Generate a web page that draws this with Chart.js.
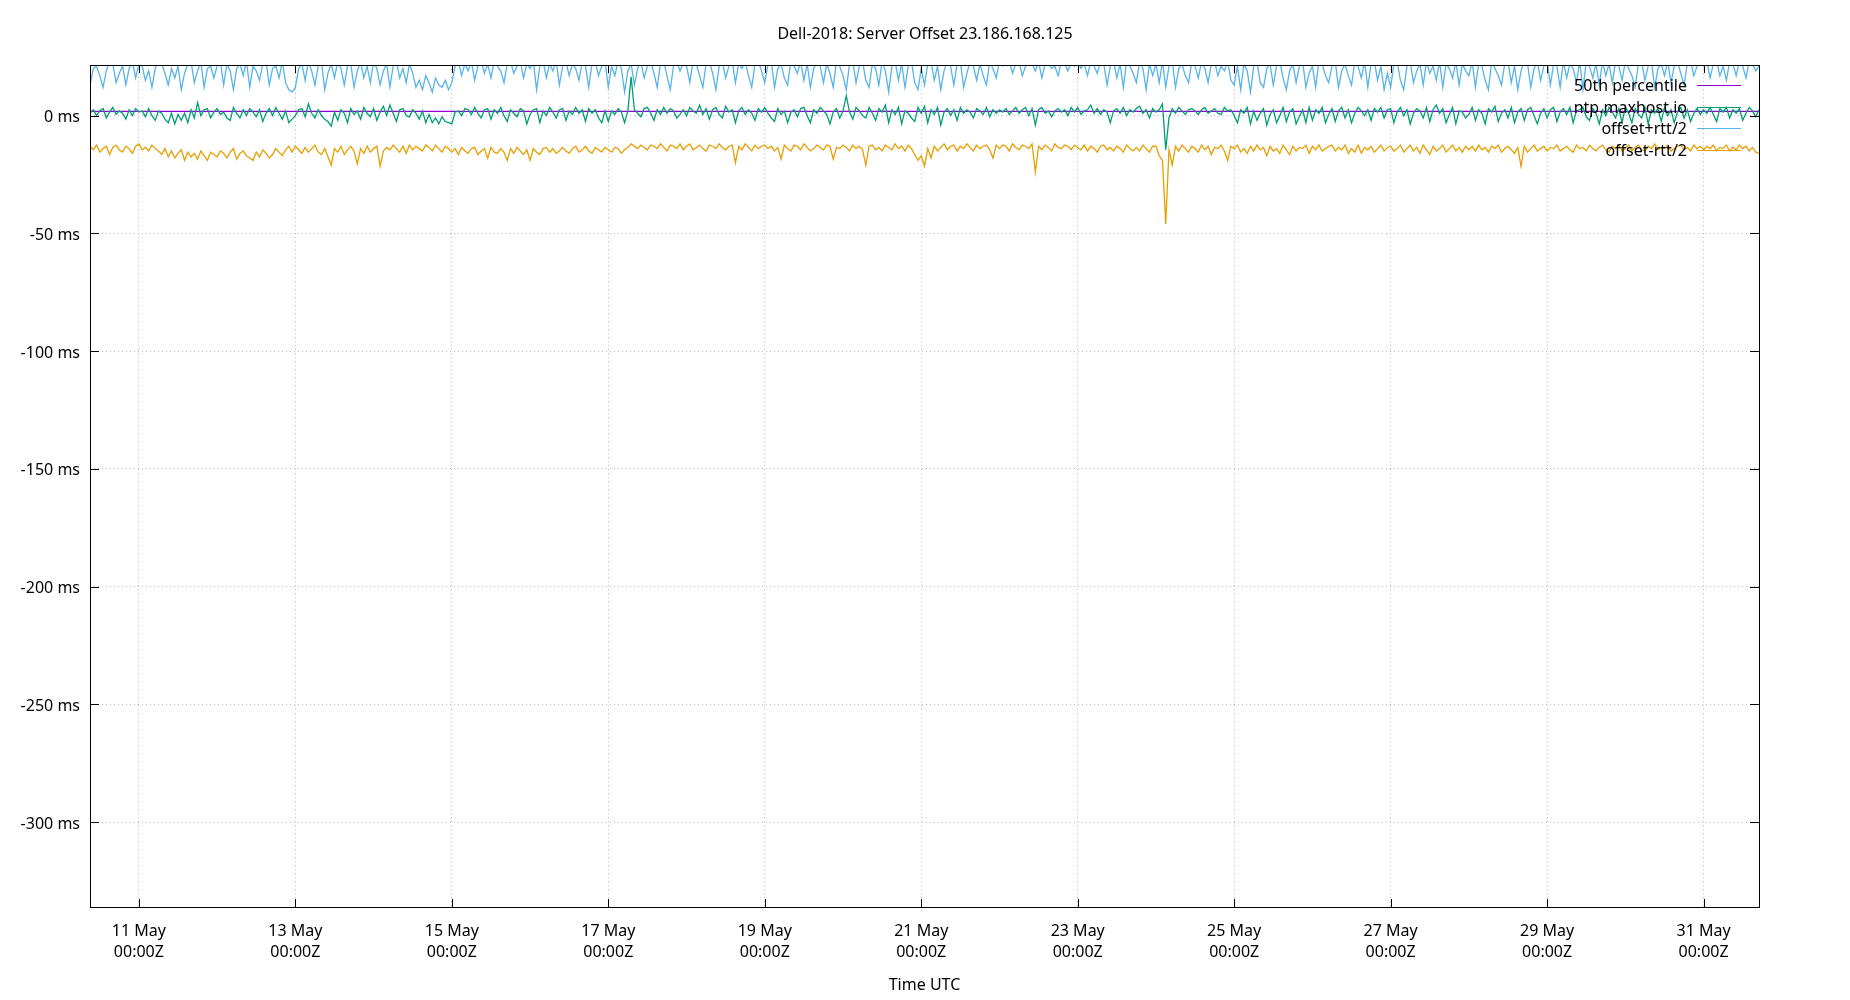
<!DOCTYPE html>
<html>
<head>
<meta charset="utf-8">
<title>Dell-2018: Server Offset 23.186.168.125</title>
<script src="https://cdn.jsdelivr.net/npm/chart.js@4.4.1/dist/chart.umd.min.js"></script>
<style>
  html, body { margin: 0; padding: 0; background: #fff; }
  canvas { display: block; }
</style>
</head>
<body>
<canvas id="offsetChart" width="1850" height="1000"></canvas>
<script>
// hourly samples, first one 10 May 2018 09:00Z, last one 31 May 17:00Z
const startTime = Date.UTC(2018, 4, 10, 9);
const endTime = Date.UTC(2018, 4, 31, 17);
const stepMs = 3600 * 1000;

// offset+rtt/2 (ms), one row per day
const offsetPlus = [
  13, 20, 21, 17, 12, 19, 23, 22, 14, 18, 21, 13, 20, 23, 16,
  22, 21, 15, 19, 12, 20, 23, 22, 18, 13, 20, 16, 21, 11, 18, 22, 23, 14, 19, 23, 12, 20, 21, 16,
  21, 23, 13, 22, 19, 11, 20, 22, 17, 23, 12, 21, 19, 15, 22, 23, 13, 20, 21, 16, 23, 14, 11, 10,
  12, 20, 22, 15, 23, 19, 13, 21, 23, 11, 18, 22, 16, 23, 20, 13, 21, 22, 12, 19, 23, 16, 21, 14,
  23, 20, 13, 19, 22, 12, 21, 23, 16, 20, 14, 22, 18, 12, 15, 11, 17, 14, 10, 16, 13, 12, 15, 11,
  14, 21, 23, 17, 22, 19, 23, 15, 21, 23, 18, 22, 16, 23, 21, 19, 14, 22, 23, 18, 21, 23, 16, 22,
  20, 23, 11, 21, 23, 16, 22, 19, 23, 13, 21, 23, 17, 22, 20, 15, 23, 21, 12, 22, 23, 17, 21, 23,
  12, 21, 17, 23, 20, 10, 19, 22, 13, 20, 23, 16, 21, 23, 18, 12, 22, 23, 17, 11, 21, 23, 19, 22,
  21, 14, 23, 22, 17, 12, 22, 23, 18, 11, 21, 23, 16, 21, 23, 14, 22, 20, 23, 17, 12, 22, 23, 19,
  14, 22, 23, 12, 20, 22, 16, 13, 23, 21, 18, 23, 15, 22, 12, 20, 23, 21, 14, 22, 18, 12, 23, 21,
  17, 11, 22, 23, 14, 21, 23, 15, 12, 22, 20, 13, 23, 19, 10, 21, 23, 15, 22, 12, 21, 23, 14, 11,
  20, 13, 22, 23, 15, 21, 11, 19, 23, 21, 13, 22, 23, 12, 18, 23, 21, 15, 22, 17, 13, 23, 20, 16,
  23, 21, 22, 23, 18, 22, 23, 17, 21, 23, 22, 19, 23, 16, 22, 23, 20, 21, 17, 23, 22, 19, 23, 21,
  23, 20, 22, 17, 23, 21, 18, 23, 22, 13, 21, 23, 16, 22, 12, 23, 21, 18, 14, 23, 20, 11, 22, 17,
  22, 14, 23, 12, 21, 23, 12, 20, 22, 17, 14, 23, 21, 16, 23, 20, 14, 22, 23, 17, 21, 19, 23, 15,
  13, 21, 11, 22, 19, 10, 21, 23, 14, 12, 20, 22, 13, 21, 23, 16, 11, 19, 22, 14, 21, 23, 12, 18,
  21, 12, 23, 22, 17, 14, 21, 23, 12, 19, 22, 17, 13, 23, 21, 16, 23, 12, 22, 23, 15, 21, 11, 18,
  12, 22, 23, 15, 11, 21, 23, 14, 19, 22, 13, 23, 18, 21, 15, 23, 12, 22, 20, 16, 23, 13, 22, 19,
  17, 23, 12, 22, 21, 15, 11, 23, 20, 17, 13, 22, 23, 14, 21, 11, 19, 23, 22, 12, 20, 23, 15, 21,
  23, 13, 22, 21, 12, 23, 16, 22, 20, 14, 23, 11, 23, 21, 16, 22, 13, 23, 17, 22, 14, 23, 21, 15,
  23, 20, 17, 12, 22, 23, 15, 21, 23, 12, 20, 22, 17, 23, 14, 21, 23, 18, 13, 22, 23, 17, 21, 23,
  21, 23, 16, 22, 23, 17, 21, 15, 23, 22, 17, 23, 21, 16, 23, 22, 19, 21
];

// ntp.maxhost.io offset (ms)
const offset = [
  1, 2.5, 0, 2, 3, -1, 1.5, 3.5, 0.5, 2, 1, -1.5, 2.5, 0, 3,
  1.5, 2, -0.5, 3, 0, -2, 2, 1, -1.5, -3, 1, -3.5, 0.5, -2, 1, -3, 2.5, -1, 5.5, 0, 2.5, 3, -1, 1.5,
  3, 0.5, 1.5, -1, -2, 3.5, 1, -1, 2.5, 0, 3, 1.5, -0.5, 2.5, -2.5, 1, 3, 0, 3.5, 1, -1.5, 2, -3, -1.5,
  0, 2.5, 3, -0.5, 5, 1, -1, 2.5, 0, -1.5, -2.5, -4.5, 1.5, -2, 2.5, 1, -3, 3, 0.5, 2, -1.5, 3.5, 1, -0.5,
  3, -2, 1.5, 4, 0, 4.5, 1, -2.5, 2.5, 3, 0, -0.5, 2.5, 1, -1.5, 2, -3, 0.5, -3, -1, -3.5, -0.5, -2.5, -3,
  -3.5, 1.5, 2, 0, 3, 2.5, 0.5, 3.5, 1, -1, 2.5, 3, -1.5, 2.5, 1, 3.5, 0, -2.5, 2.5, 1, -0.5, 3, 2, -3.5,
  0.5, 2.5, 3, -3, 2, 0, 3.5, 1.5, -1, 2.5, 3, -2, 2, 0.5, 3.5, 1, 2.5, -2.5, 3, 1, 2.5, -1, -3, 2,
  -2.5, 2, 0.5, 3, 1.5, -3, 2, 16.5, 2.5, 1, -0.5, 3, 3.5, 1, -2, 2.5, 0.5, 3.5, 1, 3, 2, -1, 0.5, 2.5,
  0, 3.5, 2, 1, 4.5, 0.5, 3, -1.5, 2.5, 3.5, 0.5, -1, 4, 1.5, 2.5, -3, 2, 3.5, 0.5, 2.5, 1, -2, 3, 1.5,
  3.5, 1, -1, -2.5, 3, 0.5, 2, -3, 1.5, 2.5, -0.5, 3, 3.5, 0, -3, 2.5, 1, 3.5, 2, 0.5, -3.5, 1.5, 3, -1,
  2, 8.5, 1.5, -1.5, 3.5, 2, 0, -1, 3.5, 1, -2, 3, 1.5, 4.5, -3, 2.5, 0.5, 3.5, -3.5, 2, 1, -1, -2.5, 3.5,
  1, 4, -3, 2.5, 0.5, 3.5, -4, 1.5, 3, 0, 2.5, -2, 3.5, 1, 2.5, 1.5, -1, 3, 2, 0.5, 3.5, -0.5, 2.5, 1,
  2.5, 1.5, 3, 0.5, 2, 3.5, 1, 2.5, 3.5, 0, 3, -4, 2.5, 3.5, 1, 2, -0.5, 2, 3, 1.5, 2.5, 0, 3.5, 1.5,
  3.5, 0.5, 2, 2.5, 4.5, 1, 3, 0.5, 2.5, 1.5, -3, 2, 3, 1, 3.5, 0, 2.5, 1.5, 3, 4, 1, 2.5, -1, 3,
  1.5, 2.5, 5, -14.5, -1, 3, 1, 3.5, 2, 0.5, 2.5, 3, 2, 0.5, 2.5, 3.5, 1, 2, 3, 1, 0.5, 3.5, 2, 2.5,
  0, -3, 2.5, 1, 3.5, -3.5, 2, -2, 1, 3, -4, 0.5, 2.5, -3, 0, 3.5, -2.5, 1.5, 3, -3.5, -0.5, 2.5, -3, 3.5,
  -2, 2.5, 1, 3.5, -3, 0.5, 3, -2.5, 2, 3.5, -1, 2.5, -3, 1, 3.5, 2, 0, 2.5, -2, 3, 1.5, 3.5, -1, 2.5,
  3, -3, 1.5, 3.5, 0, 2.5, -3.5, 1, 3, 2, -1, 3.5, -2.5, 2.5, 4.5, 1, 3, -3, 0.5, 3.5, -3.5, 2, 1.5, -1,
  0.5, 3.5, -2, 2.5, 1, -3.5, 3, 1.5, 4, -2.5, 1, 2.5, -1, 3.5, -3, 1.5, 3, -2, 2.5, 3.5, 0, -3.5, 1, 3,
  -1, 2.5, 3.5, -2.5, 1.5, 3, 0.5, 3.5, -3, 2, 2.5, 3.5, -0.5, -2, 3, 1, -3.5, 2.5, 0, 3.5, 1.5, -1, 3, -3,
  3.5, 1, -3, 3, 0.5, -1, 3.5, -3.5, 2.5, 1, 3, -2.5, 3.5, 0, 2.5, -3, 1.5, 3.5, -1, 2.5, -2.5, 1, 3, 0.5,
  2.5, 1, 3.5, 0.5, -2.5, 3, 1.5, 3.5, -1, 2.5, 1, 3, -2, 1, 3.5, 2, -0.5, 2.5
];

// offset-rtt/2 (ms)
const offsetMinus = [
  -13, -14.5, -12.5, -15.5, -14, -13, -16.5, -13.5, -12.5, -14.5, -15.5, -13, -14, -16, -13,
  -12, -14.5, -13.5, -15, -12.5, -14, -15, -16.5, -14, -17.5, -15, -18, -16, -14.5, -19, -15.5, -17.5, -16, -18.5, -15, -17, -19, -15.5, -16.5,
  -17.5, -15, -16, -18, -15.5, -14, -18.5, -16, -15, -17, -18, -19, -15.5, -17.5, -14.5, -16, -18, -16.5, -14, -15.5, -17, -14.5, -13, -15.5,
  -13, -14.5, -16, -13.5, -15.5, -14, -12.5, -15.5, -16.5, -14, -17.5, -21, -14, -15.5, -13, -16.5, -14.5, -13, -15, -20.5, -14, -16, -13, -15.5,
  -14, -13, -21.5, -15, -13.5, -14.5, -12.5, -14, -15.5, -13, -16, -12.5, -14.5, -13, -14, -15, -12.5, -13.5, -15, -12.5, -14, -15.5, -13, -14,
  -15.5, -14, -16.5, -13.5, -15, -16, -14, -13.5, -16.5, -15, -14, -18, -13.5, -15.5, -16, -14, -15.5, -19, -14, -16, -13.5, -15, -16.5, -14.5,
  -19, -14, -15.5, -16.5, -14, -13.5, -15.5, -14, -16, -15, -13.5, -15, -16, -14, -13, -15.5, -14.5, -13, -15, -16, -13.5, -14.5, -15.5, -13.5,
  -14.5, -15.5, -13.5, -14, -16, -14.5, -13.5, -12, -13, -14, -12.5, -13.5, -14.5, -12.5, -13, -14, -12, -13.5, -15, -12.5, -13, -14, -12, -14.5,
  -13, -12, -14.5, -13.5, -12.5, -14, -15, -12.5, -13, -14, -12, -13.5, -14.5, -13, -12.5, -20, -13, -14.5, -12, -13.5, -15, -12.5, -14, -13,
  -12.5, -14, -13, -15, -13.5, -18.5, -12.5, -14, -15, -12.5, -13, -14.5, -12, -13.5, -15, -14, -12.5, -13.5, -14.5, -12.5, -13, -18.5, -13.5, -14,
  -12.5, -13.5, -15, -12.5, -14, -13, -14.5, -21, -13, -12.5, -14.5, -13.5, -15, -12.5, -13.5, -14.5, -12, -14, -13, -15, -12.5, -14, -16.5, -19,
  -17, -21.5, -14, -18, -13, -15, -13.5, -12, -14.5, -13, -12.5, -15, -13, -14, -12, -13.5, -15, -12.5, -14, -13, -12.5, -14.5, -18, -12.5,
  -14, -12.5, -13, -15, -12, -13.5, -14.5, -12.5, -13, -14, -12, -24, -13, -14.5, -12.5, -13.5, -15, -12, -13.5, -14, -12.5, -13, -14.5, -12.5,
  -13.5, -14.5, -12.5, -15, -13, -14, -15.5, -13, -12.5, -14.5, -13.5, -15, -13, -14, -15.5, -12.5, -14, -15, -13.5, -15, -12.5, -14, -15.5, -13,
  -13, -17, -19, -46, -14.5, -21, -13, -15, -12.5, -14, -15.5, -13, -14, -15.5, -12.5, -14.5, -13, -16.5, -13.5, -14, -12.5, -15, -19, -13,
  -14, -12.5, -15.5, -14, -16, -13, -15, -12.5, -14.5, -13.5, -17, -13, -15, -14, -16, -12.5, -14.5, -16.5, -13, -15, -13.5, -14, -12.5, -16,
  -13, -14.5, -12.5, -15, -14, -13, -12.5, -15, -13.5, -14.5, -12.5, -16, -14, -15.5, -12.5, -16, -13.5, -14.5, -13, -15.5, -14, -12.5, -15, -13.5,
  -13, -15, -14, -12.5, -15.5, -14, -12.5, -15, -13.5, -16, -12.5, -14.5, -16.5, -13, -15, -14, -12.5, -15.5, -14, -12.5, -15, -13.5, -15.5, -13,
  -14.5, -13, -15, -12.5, -14.5, -13.5, -15.5, -13, -14, -12.5, -15.5, -14, -13, -14.5, -16, -13.5, -21.5, -13, -15.5, -14, -12.5, -15, -14, -13,
  -15, -13.5, -14, -12.5, -15, -14, -13, -14.5, -15.5, -12.5, -14, -13.5, -15, -12.5, -14, -15, -13.5, -12.5, -14.5, -15.5, -13, -14, -12.5, -15,
  -14, -12.5, -15, -13.5, -12.5, -14.5, -15, -13, -14, -12, -14.5, -13.5, -14, -12.5, -15, -14, -13, -12.5, -14.5, -13.5, -15, -12.5, -14, -13,
  -14.5, -13, -14, -12.5, -15, -13.5, -14, -12.5, -15, -13.5, -14.5, -12.5, -14, -13, -15, -13.5, -15.5, -16
];

// 50th percentile of the offset (ms)
const median50 = 1.8;

const xTickDays = [11, 13, 15, 17, 19, 21, 23, 25, 27, 29, 31];
const xTickLabels = ['11 May', '13 May', '15 May', '17 May', '19 May', '21 May',
  '23 May', '25 May', '27 May', '29 May', '31 May'];
const yTickValues = [-300, -250, -200, -150, -100, -50, 0];

const fontFamily = "'Noto Sans', sans-serif";

function toPoints(vals) {
  return vals.map((v, i) => ({ x: startTime + i * stepMs, y: v }));
}

// gnuplot style box, inward ticks and key
const gnuplotFrame = {
  id: 'gnuplotFrame',
  afterDatasetsDraw(chart) {
    const { ctx, chartArea: a, scales } = chart;
    ctx.save();
    ctx.strokeStyle = '#000';
    ctx.lineWidth = 1;
    ctx.beginPath();
    scales.x.ticks.forEach(t => {
      const px = Math.round(scales.x.getPixelForValue(t.value)) + 0.5;
      ctx.moveTo(px, a.bottom); ctx.lineTo(px, a.bottom - 8);
      ctx.moveTo(px, a.top); ctx.lineTo(px, a.top + 8);
    });
    scales.y.ticks.forEach(t => {
      const py = Math.round(scales.y.getPixelForValue(t.value)) + 0.5;
      ctx.moveTo(a.left, py); ctx.lineTo(a.left + 9, py);
      ctx.moveTo(a.right, py); ctx.lineTo(a.right - 9, py);
    });
    ctx.stroke();
    ctx.strokeRect(a.left + 0.5, a.top + 0.5, a.right - a.left, a.bottom - a.top);

    ctx.font = '16px ' + fontFamily;
    ctx.textAlign = 'right';
    ctx.textBaseline = 'middle';
    chart.data.datasets.forEach((ds, k) => {
      const yy = a.top + 21.5 + k * 21.7;
      ctx.fillStyle = '#000';
      ctx.fillText(ds.label, a.right - 72, yy);
      ctx.strokeStyle = ds.borderColor;
      ctx.beginPath();
      ctx.moveTo(a.right - 62, Math.round(yy - 1.5) + 0.5);
      ctx.lineTo(a.right - 18, Math.round(yy - 1.5) + 0.5);
      ctx.stroke();
    });
    ctx.restore();
  }
};

const offsetCtx = document.getElementById('offsetChart');

const offsetChart = new Chart(offsetCtx, {
  type: 'line',
  data: {
    datasets: [
      { label: '50th percentile', data: [{ x: startTime, y: median50 }, { x: endTime, y: median50 }],
        borderColor: '#9400d3', order: 4 },
      { label: 'ntp.maxhost.io', data: toPoints(offset), borderColor: '#009e73', order: 3 },
      { label: 'offset+rtt/2', data: toPoints(offsetPlus), borderColor: '#56b4e9', order: 2 },
      { label: 'offset-rtt/2', data: toPoints(offsetMinus), borderColor: '#e69f00', order: 1 }
    ]
  },
  options: {
    responsive: false,
    animation: false,
    elements: {
      point: { radius: 0 },
      line: { borderWidth: 1.3, tension: 0 }
    },
    layout: { padding: 0 },
    plugins: {
      legend: { display: false },
      tooltip: { enabled: false },
      title: {
        display: true,
        text: 'Dell-2018: Server Offset 23.186.168.125',
        color: '#000',
        font: { family: fontFamily, size: 16, weight: 'normal', lineHeight: 1.2 },
        padding: { top: 24.9, bottom: 20.9 }
      }
    },
    scales: {
      x: {
        type: 'linear',
        min: startTime,
        max: endTime,
        afterBuildTicks: s => { s.ticks = xTickDays.map(d => ({ value: Date.UTC(2018, 4, d) })); },
        afterFit: s => { s.height = 93; },
        grid: { color: '#bdbdbd', lineWidth: 1, drawTicks: false },
        border: { display: false, dash: [1, 3] },
        ticks: {
          color: '#000',
          font: { family: fontFamily, size: 16, lineHeight: 1.3125 },
          padding: 14,
          maxRotation: 0,
          autoSkip: false,
          callback: (v, i) => [xTickLabels[i], '00:00Z']
        },
        title: {
          display: true,
          text: 'Time UTC',
          color: '#000',
          font: { family: fontFamily, size: 16, lineHeight: 1.2 },
          padding: { top: 0, bottom: 5 }
        }
      },
      y: {
        min: -336,
        max: 21.5,
        afterBuildTicks: s => { s.ticks = yTickValues.map(v => ({ value: v })); },
        afterFit: s => { s.width = 90; },
        grid: { color: '#bdbdbd', lineWidth: 1, drawTicks: false },
        border: { display: false, dash: [1, 3] },
        ticks: {
          color: '#000',
          font: { family: fontFamily, size: 16 },
          padding: 10,
          labelOffset: 2,
          callback: v => v + ' ms'
        }
      },
      // empty right margin so the title centres on the whole page
      yRight: {
        position: 'right',
        afterFit: s => { s.width = 91; },
        grid: { display: false },
        border: { display: false },
        ticks: { display: false }
      }
    }
  },
  plugins: [gnuplotFrame]
});
</script>
</body>
</html>
